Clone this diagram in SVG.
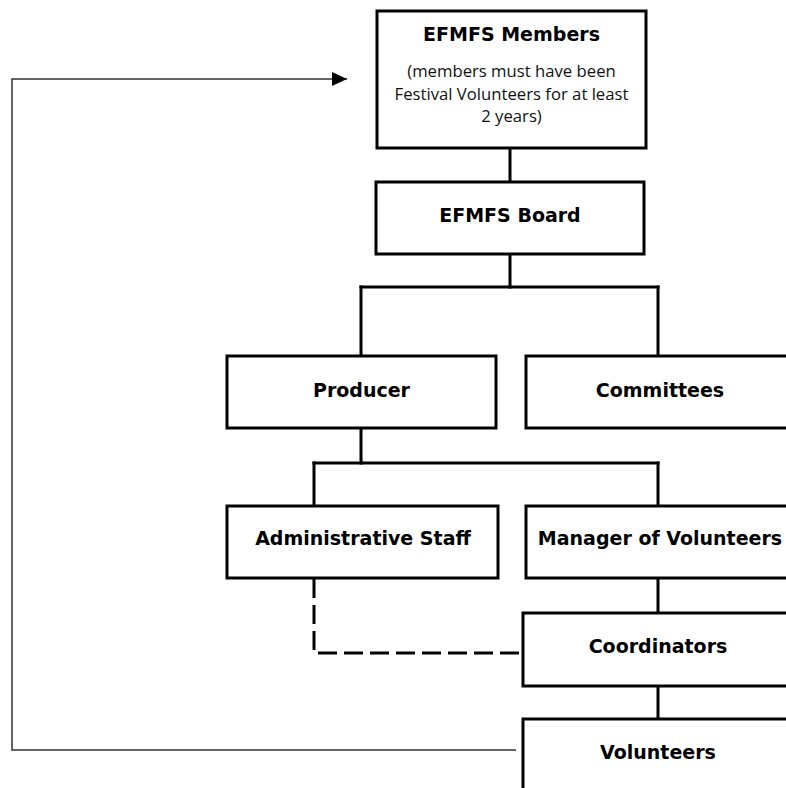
<svg xmlns="http://www.w3.org/2000/svg" width="786" height="788" viewBox="0 0 786 788">
  <style>
    .box { fill: #ffffff; stroke: #000000; stroke-width: 3; }
    .conn { stroke: #000000; stroke-width: 3; fill: none; stroke-linecap: square; }
    .dash { stroke: #000000; stroke-width: 3; fill: none; stroke-dasharray: 19 7; }
    .thin { stroke: #333333; stroke-width: 1.5; fill: none; }
    .lbl { font-family: "DejaVu Sans", Verdana, sans-serif; font-weight: bold; font-size: 19px; fill: #000000; text-anchor: middle; }
    .sub { font-family: "Open Sans", "DejaVu Sans", sans-serif; font-size: 16.7px; fill: #111111; text-anchor: middle; }
  </style>
  <defs>
    <marker id="arrow" markerUnits="userSpaceOnUse" markerWidth="15" markerHeight="14" refX="15" refY="7" orient="auto">
      <path d="M0,0 L15,7 L0,14 Z" fill="#000000"/>
    </marker>
  </defs>
  <rect width="786" height="788" fill="#ffffff"/>

  <g id="connectors">
    <line class="conn" x1="510" y1="148" x2="510" y2="182"/>
    <line class="conn" x1="510" y1="254" x2="510" y2="287"/>
    <line class="conn" x1="361" y1="287" x2="658" y2="287"/>
    <line class="conn" x1="361" y1="287" x2="361" y2="356"/>
    <line class="conn" x1="658" y1="287" x2="658" y2="356"/>
    <line class="conn" x1="361" y1="428" x2="361" y2="463"/>
    <line class="conn" x1="314" y1="463" x2="658" y2="463"/>
    <line class="conn" x1="314" y1="463" x2="314" y2="506"/>
    <line class="conn" x1="658" y1="463" x2="658" y2="506"/>
    <line class="conn" x1="658" y1="578" x2="658" y2="613"/>
    <line class="conn" x1="658" y1="686" x2="658" y2="719"/>
    <path class="dash" d="M314,579 V653 H523"/>
    <path class="thin" d="M516,750 H12 V79 H347" marker-end="url(#arrow)"/>
  </g>

  <g id="members">
    <rect class="box" x="377" y="11" width="269" height="137"/>
    <text class="lbl" x="511.5" y="41">EFMFS Members</text>
    <text class="sub" x="511.5" y="77">(members must have been</text>
    <text class="sub" x="511.5" y="100">Festival Volunteers for at least</text>
    <text class="sub" x="511.5" y="122">2 years)</text>
  </g>
  <g id="board">
    <rect class="box" x="376" y="182" width="268" height="72"/>
    <text class="lbl" x="510" y="222">EFMFS Board</text>
  </g>
  <g id="producer">
    <rect class="box" x="227" y="356" width="269" height="72"/>
    <text class="lbl" x="361.5" y="397">Producer</text>
  </g>
  <g id="committees">
    <rect class="box" x="526" y="356" width="269" height="72"/>
    <text class="lbl" x="660" y="397">Committees</text>
  </g>
  <g id="admin-staff">
    <rect class="box" x="227" y="506" width="271" height="72"/>
    <text class="lbl" x="363" y="545">Administrative Staff</text>
  </g>
  <g id="manager">
    <rect class="box" x="526" y="506" width="269" height="72"/>
    <text class="lbl" x="660" y="545">Manager of Volunteers</text>
  </g>
  <g id="coordinators">
    <rect class="box" x="523" y="613" width="270" height="73"/>
    <text class="lbl" x="658" y="653">Coordinators</text>
  </g>
  <g id="volunteers">
    <rect class="box" x="523" y="719" width="270" height="90"/>
    <text class="lbl" x="658" y="759">Volunteers</text>
  </g>
</svg>
